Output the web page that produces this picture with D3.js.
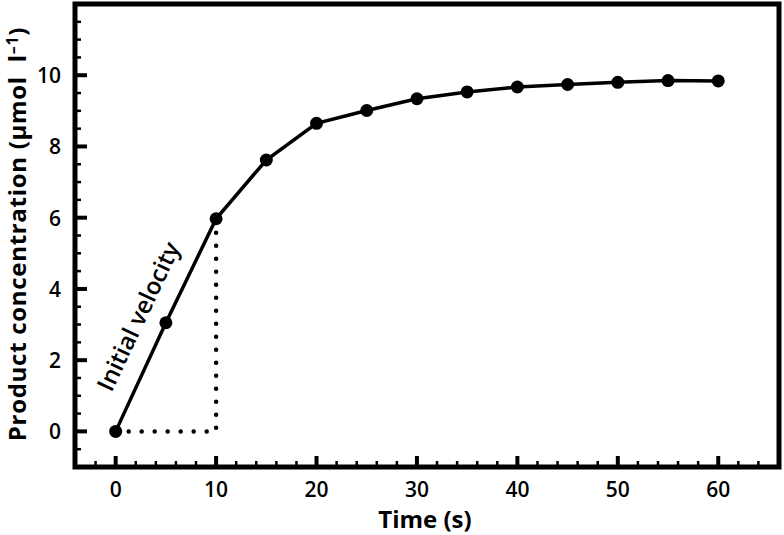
<!DOCTYPE html>
<html><head><meta charset="utf-8">
<script src="https://cdn.jsdelivr.net/npm/d3@7"></script>
<style>body{margin:0;background:#fff}svg{display:block}</style>
</head><body>
<svg id="c" width="784" height="535"></svg>
<script>
const times = [0,5,10,15,20,25,30,35,40,45,50,55,60];
const concentration = [0,3.05,5.97,7.62,8.65,9.01,9.34,9.53,9.67,9.74,9.80,9.85,9.84];
const xTicks = [0,10,20,30,40,50,60];
const yTicks = [0,2,4,6,8,10];
const annotation = "Initial velocity";
const xTitle = "Time (s)";

const svg = d3.select("#c");
const L=75,R=779,T=4,B=467;
const x = d3.scaleLinear().domain([-4.05,66.05]).range([L,R]);
const y = d3.scaleLinear().domain([-1,12]).range([B,T]);
const font = "'Open Sans', sans-serif";

// minor ticks
const xMinor = d3.range(-2,66,2).filter(v=>v%10!==0);
const yMinor = d3.range(-0.5,12,0.5).filter(v=>v%2!==0);
const g = svg.append("g");
g.selectAll(".xm").data(xMinor).join("line")
  .attr("x1",d=>x(d)).attr("x2",d=>x(d)).attr("y1",B).attr("y2",B-6)
  .attr("stroke","#000").attr("stroke-width",2.5);
g.selectAll(".xM").data(xTicks).join("line")
  .attr("x1",d=>x(d)).attr("x2",d=>x(d)).attr("y1",B).attr("y2",B-11)
  .attr("stroke","#000").attr("stroke-width",4);
g.selectAll(".ym").data(yMinor).join("line")
  .attr("x1",L).attr("x2",L+6).attr("y1",d=>y(d)).attr("y2",d=>y(d))
  .attr("stroke","#000").attr("stroke-width",2.5);
g.selectAll(".yM").data(yTicks).join("line")
  .attr("x1",L).attr("x2",L+12).attr("y1",d=>y(d)).attr("y2",d=>y(d))
  .attr("stroke","#000").attr("stroke-width",4);

// frame
svg.append("rect").attr("x",L).attr("y",T).attr("width",R-L).attr("height",B-T)
  .attr("fill","none").attr("stroke","#000").attr("stroke-width",5);

// tick labels
svg.selectAll(".xl").data(xTicks).join("text")
  .attr("x",d=>x(d)).attr("y",497).attr("text-anchor","middle")
  .attr("font-family",font).attr("font-weight",600).attr("font-size",21).text(d=>d);
svg.selectAll(".yl").data(yTicks).join("text")
  .attr("x",61).attr("y",d=>y(d)+8).attr("text-anchor","end")
  .attr("font-family",font).attr("font-weight",600).attr("font-size",21).text(d=>d);

// axis titles
svg.append("text").attr("x",x(30)+8).attr("y",528).attr("text-anchor","middle")
  .attr("font-family",font).attr("font-weight",700).attr("font-size",24).text(xTitle);
svg.append("text").attr("transform","translate(26,234) rotate(-90)").attr("text-anchor","middle")
  .attr("font-family",font).attr("font-weight",700).attr("font-size",24).attr("letter-spacing",0.7)
  .html("Product concentration (μmol&#160;&#160;l<tspan dy='-8' font-size='16'>–1</tspan><tspan dy='8'>)</tspan>");

// dotted guides
const guide = [[times[0],concentration[0]],[times[2],concentration[0]],[times[2],concentration[2]]];
svg.append("path")
  .attr("d",d3.line().x(d=>x(d[0])).y(d=>y(d[1]))(guide))
  .attr("fill","none").attr("stroke","#000").attr("stroke-width",4.5)
  .attr("stroke-linecap","round").attr("stroke-dasharray","0 13");

// line
svg.append("path").datum(times.map((t,i)=>[t,concentration[i]]))
  .attr("d",d3.line().x(d=>x(d[0])).y(d=>y(d[1])))
  .attr("fill","none").attr("stroke","#000").attr("stroke-width",3.5);
svg.selectAll(".pt").data(times).join("circle")
  .attr("cx",d=>x(d)).attr("cy",(d,i)=>y(concentration[i])).attr("r",6.5).attr("fill","#000");

// annotation
const ang = Math.atan2(y(concentration[2])-y(concentration[0]), x(times[2])-x(times[0]))*180/Math.PI;
svg.append("text").attr("transform",`translate(146,320) rotate(${ang})`).attr("text-anchor","middle")
  .attr("font-family",font).attr("font-weight",600).attr("font-size",24).text(annotation);
</script>
</body></html>
